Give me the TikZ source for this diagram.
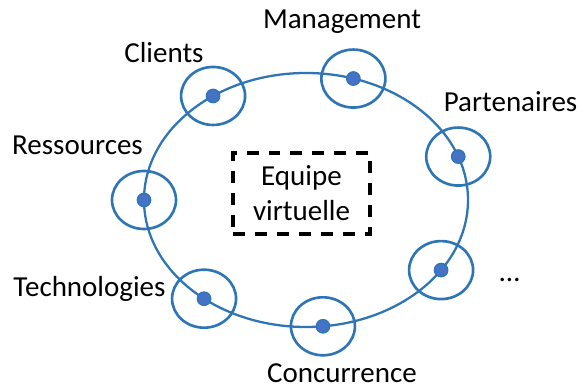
\documentclass[tikz,border=0pt]{standalone}
\usepackage{fontspec}
\setmainfont{Carlito}
\usetikzlibrary{calc}
\definecolor{ringblue}{RGB}{46,117,182}
\definecolor{dotblue}{RGB}{68,114,196}
\tikzset{
  orbit/.style={draw=ringblue,line width=1.3pt},
  ring/.style={draw=ringblue,line width=1.5pt,ellipse,minimum width=1.28cm,minimum height=1.16cm,inner sep=0pt},
  dot/.style={circle,fill=dotblue,draw=ringblue,line width=0.7pt,minimum size=0.27cm,inner sep=0pt},
  actor/.style={anchor=base,inner sep=0pt,font=\fontsize{16.5}{19.9}\selectfont},
  teambox/.style={draw=black,line width=2pt,dash pattern=on 6.8pt off 5.7pt,minimum width=2.74cm,minimum height=1.62cm,align=center,font=\fontsize{16.5}{19.9}\selectfont}
}
\usetikzlibrary{shapes.geometric}
\begin{document}
\begin{tikzpicture}
	\useasboundingbox (0,0) rectangle (11.64,7.8);
%Umlauf
	\coordinate (mid) at (6.12,3.8);
	\draw[orbit] (mid) ellipse (3.24 and 2.54);
%Akteure auf dem Umlauf
	\foreach \w/\n in {125/cli,73/man,20/par,-33.5/etc,-84/con,-129/tec,180/res}{
	  \node[ring] at ($(mid)+(\w:3.24 and 2.54)$) {};
	  \node[dot] (\n) at ($(mid)+(\w:3.24 and 2.54)$) {};}
%Beschriftung
	\node[actor] (lcli) at (3.28,6.55) {Clients};
	\node[actor] (lman) at (6.84,7.22) {Management};
	\node[actor] (lpar) at (10.21,5.57) {Partenaires};
	\node[actor] (letc) at (10.19,2.16) {…};
	\node[actor] (lcon) at (6.84,0.14) {Concurrence};
	\node[actor] (ltec) at (1.79,1.86) {Technologies};
	\node[actor] (lres) at (1.55,4.7) {Ressources};
%Equipe
	\node[teambox] (team) at (6.03,3.93) {Equipe\\virtuelle};
\end{tikzpicture}
\end{document}
